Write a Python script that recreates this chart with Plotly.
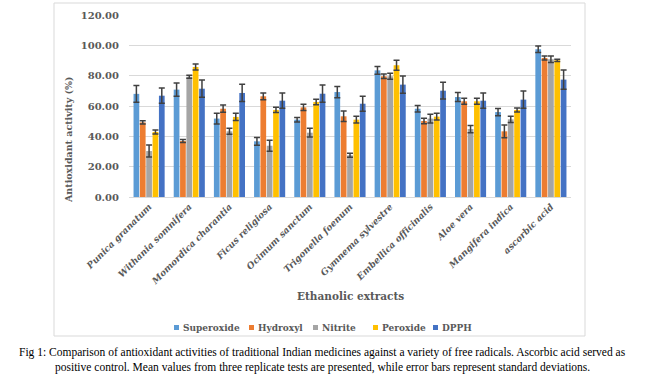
import plotly.graph_objects as go

categories = ["Punica granatum", "Withania somnifera", "Momordica charantia", "Ficus religiosa",
              "Ocimum sanctum", "Trigonella foenum", "Gymnema sylvestre", "Embellica officinalis",
              "Aloe vera", "Mangifera indica", "ascorbic acid"]

superoxide = [68.0, 70.8, 51.7, 36.7, 51.0, 69.2, 83.5, 58.2, 65.9, 56.0, 97.4]
hydroxyl   = [49.2, 36.9, 58.2, 66.4, 59.1, 53.2, 79.6, 50.1, 63.1, 43.3, 91.7]
nitrite    = [30.3, 79.3, 43.3, 33.8, 42.4, 27.5, 79.6, 51.7, 44.8, 51.2, 90.8]
peroxide   = [42.9, 85.7, 52.8, 57.4, 62.6, 51.0, 86.8, 53.0, 63.1, 57.4, 90.1]
dpph       = [66.8, 71.4, 68.6, 63.5, 68.1, 61.5, 74.1, 70.1, 63.5, 64.2, 77.4]

superoxide_sd = [5.5, 4.4, 3.5, 2.6, 1.5, 3.7, 2.6, 2.2, 3.0, 2.4, 2.2]
hydroxyl_sd   = [1.0, 1.0, 2.4, 2.2, 2.0, 3.5, 1.5, 1.8, 2.0, 4.2, 1.3]
nitrite_sd    = [4.0, 1.0, 2.0, 3.7, 2.9, 1.3, 2.0, 2.9, 2.4, 2.0, 2.2]
peroxide_sd   = [1.3, 2.0, 2.4, 1.7, 1.8, 2.2, 3.3, 2.2, 2.0, 1.3, 0.8]
dpph_sd       = [5.0, 5.7, 5.7, 5.0, 5.7, 4.9, 5.7, 5.5, 5.0, 5.7, 6.3]

series_names = ["Superoxide", "Hydroxyl", "Nitrite", "Peroxide", "DPPH"]
series_values = [superoxide, hydroxyl, nitrite, peroxide, dpph]
series_sds = [superoxide_sd, hydroxyl_sd, nitrite_sd, peroxide_sd, dpph_sd]
series_colors = ["#5B9BD5", "#ED7D31", "#A5A5A5", "#FFC000", "#4472C4"]

W, H = 646, 385
L, R, T, B = 129, 571, 15, 197  # plot area in pixels
pw, ph = R - L, B - T

def px(x):
    return (x - L) / pw

def py(y):
    return (B - y) / ph

SERIF = "DejaVu Serif"
GREY = "#595959"

fig = go.Figure()
for name, vals, sd, col in zip(series_names, series_values, series_sds, series_colors):
    fig.add_trace(go.Bar(
        name=name, x=categories, y=vals, marker_color=col, marker_line_width=0,
        error_y=dict(type="data", array=sd, visible=True, color="#404040", thickness=1.5, width=3),
    ))

fig.update_layout(
    width=W, height=H,
    margin=dict(l=L, r=W - R, t=T, b=H - B, autoexpand=False),
    paper_bgcolor="white", plot_bgcolor="white",
    barmode="group", bargap=0.21, bargroupgap=0.1,
    showlegend=False,
    font=dict(family=SERIF, color=GREY),
)

fig.update_yaxes(
    range=[0, 120], dtick=20, tickformat=".2f", showgrid=True, gridcolor="#D9D9D9", gridwidth=1,
    zeroline=False, showline=False, ticks="", ticklen=0, ticklabelstandoff=9, automargin=False,
    tickfont=dict(family=SERIF, size=10, color=GREY, weight="bold"),
)
fig.update_xaxes(
    showline=True, linecolor="#D9D9D9", linewidth=1, showgrid=False, ticks="",
    tickangle=-45, automargin=False,
    tickfont=dict(family=SERIF, size=9, color=GREY, weight="bold", style="italic"),
)

# axis titles
fig.add_annotation(text="Antioxidant activity (%)", xref="paper", yref="paper", x=px(68), y=py(140),
                   textangle=-90, showarrow=False, xanchor="center", yanchor="middle",
                   font=dict(family=SERIF, size=9.5, color=GREY, weight="bold"))
fig.add_annotation(text="Ethanolic extracts", xref="paper", yref="paper", x=px(350), y=py(296),
                   showarrow=False, xanchor="center", yanchor="middle",
                   font=dict(family=SERIF, size=10.5, color=GREY, weight="bold"))

# legend (drawn manually to match compact spacing)
legend_x = [174, 249, 313, 373, 433]
for name, col, lx in zip(series_names, series_colors, legend_x):
    fig.add_shape(type="rect", xref="paper", yref="paper", x0=px(lx), x1=px(lx + 5),
                  y0=py(330), y1=py(325), fillcolor=col, line_width=0)
    fig.add_annotation(text=name, xref="paper", yref="paper", x=px(lx + 7), y=py(327.5),
                       showarrow=False, xanchor="left", yanchor="middle",
                       font=dict(family=SERIF, size=9, color=GREY, weight="bold"))

# chart border
fig.add_shape(type="rect", xref="paper", yref="paper", x0=px(54), x1=px(585), y0=py(336), y1=py(3),
              line=dict(color="#D9D9D9", width=1), fillcolor="rgba(0,0,0,0)", layer="below")

# caption
cap1 = "Fig 1: Comparison of antioxidant activities of traditional Indian medicines against a variety of free radicals. Ascorbic acid served as"
cap2 = "positive control. Mean values from three replicate tests are presented, while error bars represent standard deviations."
for txt, yy in [(cap1, 352), (cap2, 367)]:
    fig.add_annotation(text=txt, xref="paper", yref="paper", x=px(322), y=py(yy),
                       showarrow=False, xanchor="center", yanchor="middle",
                       font=dict(family="Liberation Serif", size=11.5, color="black"))

fig.write_html("out.html", config={"displayModeBar": False},
               post_script="document.body.style.margin='0';document.body.style.padding='0';")
